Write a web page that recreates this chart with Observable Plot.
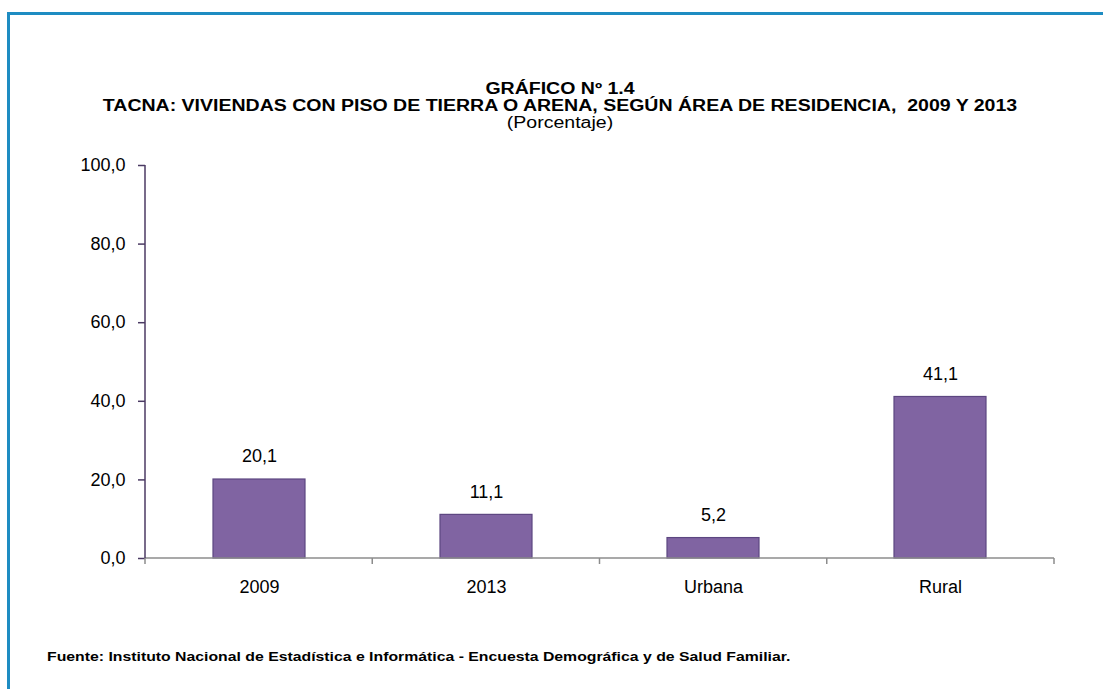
<!DOCTYPE html>
<html>
<head>
<meta charset="utf-8">
<script src="https://cdn.jsdelivr.net/npm/d3@7"></script>
<script src="https://cdn.jsdelivr.net/npm/@observablehq/plot@0.6"></script>
<style>
  html, body { margin: 0; padding: 0; background: #fff; }
  #page { position: relative; width: 1103px; height: 689px; overflow: hidden; font-family: "Liberation Sans", Arial, sans-serif; color: #000; }
  #frame { position: absolute; left: 7px; top: 12px; width: 1200px; height: 800px; border-top: 3px solid #1e8cc2; border-left: 3px solid #1e8cc2; box-sizing: border-box; }
  #titles { position: absolute; left: 0; width: 1120px; top: 80px; text-align: center; font-size: 16px; line-height: 17px; }
  #titles div { transform: scaleX(1.22); transform-origin: 560px 0; white-space: nowrap; }
  #titles .b { font-weight: bold; }
  #chart { position: absolute; left: 0; top: 0; }
  #source { position: absolute; left: 47px; top: 649px; font-size: 13.5px; font-weight: bold; transform: scaleX(1.17); transform-origin: 0 0; white-space: nowrap; }
</style>
</head>
<body>
<div id="page">
  <div id="frame"></div>
  <div id="titles">
    <div class="b">GRÁFICO Nº 1.4</div>
    <div class="b">TACNA: VIVIENDAS CON PISO DE TIERRA O ARENA, SEGÚN ÁREA DE RESIDENCIA,&nbsp; 2009 Y 2013</div>
    <div>(Porcentaje)</div>
  </div>
  <div id="chart"></div>
  <div id="source">Fuente: Instituto Nacional de Estadística e Informática - Encuesta Demográfica y de Salud Familiar.</div>
</div>
<script>
const categories = ["2009", "2013", "Urbana", "Rural"];
const values = [20.1, 11.1, 5.2, 41.1];
const yTicks = [0, 20, 40, 60, 80, 100];

const data = categories.map((c, i) => ({cat: c, value: values[i]}));
const fmt = v => v.toFixed(1).replace(".", ",");

const W = 1103, H = 689, mL = 145, mR = 49, mT = 165, mB = 131;
const font = '"Liberation Sans", Arial, sans-serif';

const axesLines = (index, scales, values, dims) => {
  const g = d3.create("svg:g");
  const step = (dims.width - dims.marginLeft - dims.marginRight) / categories.length;
  const y0 = scales.y(0);
  g.append("line").attr("x1", dims.marginLeft).attr("x2", dims.width - dims.marginRight)
    .attr("y1", y0).attr("y2", y0).attr("stroke", "#8c8c8c").attr("stroke-width", 1.5);
  for (let i = 0; i <= categories.length; i++) {
    const x = dims.marginLeft + i * step;
    g.append("line").attr("x1", x).attr("x2", x).attr("y1", y0).attr("y2", y0 + 6)
      .attr("stroke", "#8c8c8c").attr("stroke-width", 1.5);
  }
  g.append("line").attr("x1", dims.marginLeft).attr("x2", dims.marginLeft)
    .attr("y1", scales.y(100)).attr("y2", y0).attr("stroke", "#4b3a63").attr("stroke-width", 1.5);
  return g.node();
};

const chart = Plot.plot({
  width: W, height: H,
  marginLeft: mL, marginRight: mR, marginTop: mT, marginBottom: mB,
  style: {fontFamily: font, fontSize: "18px", color: "#000", background: "transparent"},
  x: {domain: categories, paddingInner: 0.595, paddingOuter: 0.2975, label: null},
  y: {domain: [0, 100], label: null},
  marks: [
    Plot.barY(data, {x: "cat", y: "value", fill: "#8064a2", stroke: "#5c4680", strokeWidth: 1.2}),
    Plot.text(data, {x: "cat", y: "value", text: d => fmt(d.value), dy: -23, fontSize: 18, fill: "#000"}),
    Plot.axisY({ticks: yTicks, tickFormat: fmt, tickSize: 7, tickPadding: 13, stroke: "#4b3a63", strokeWidth: 1.5, fontSize: 18, label: null, color: "#000"}),
    Plot.axisX({tickSize: 0, tickPadding: 22, fontSize: 18, label: null}),
    axesLines
  ]
});
document.getElementById("chart").appendChild(chart);
</script>
</body>
</html>
